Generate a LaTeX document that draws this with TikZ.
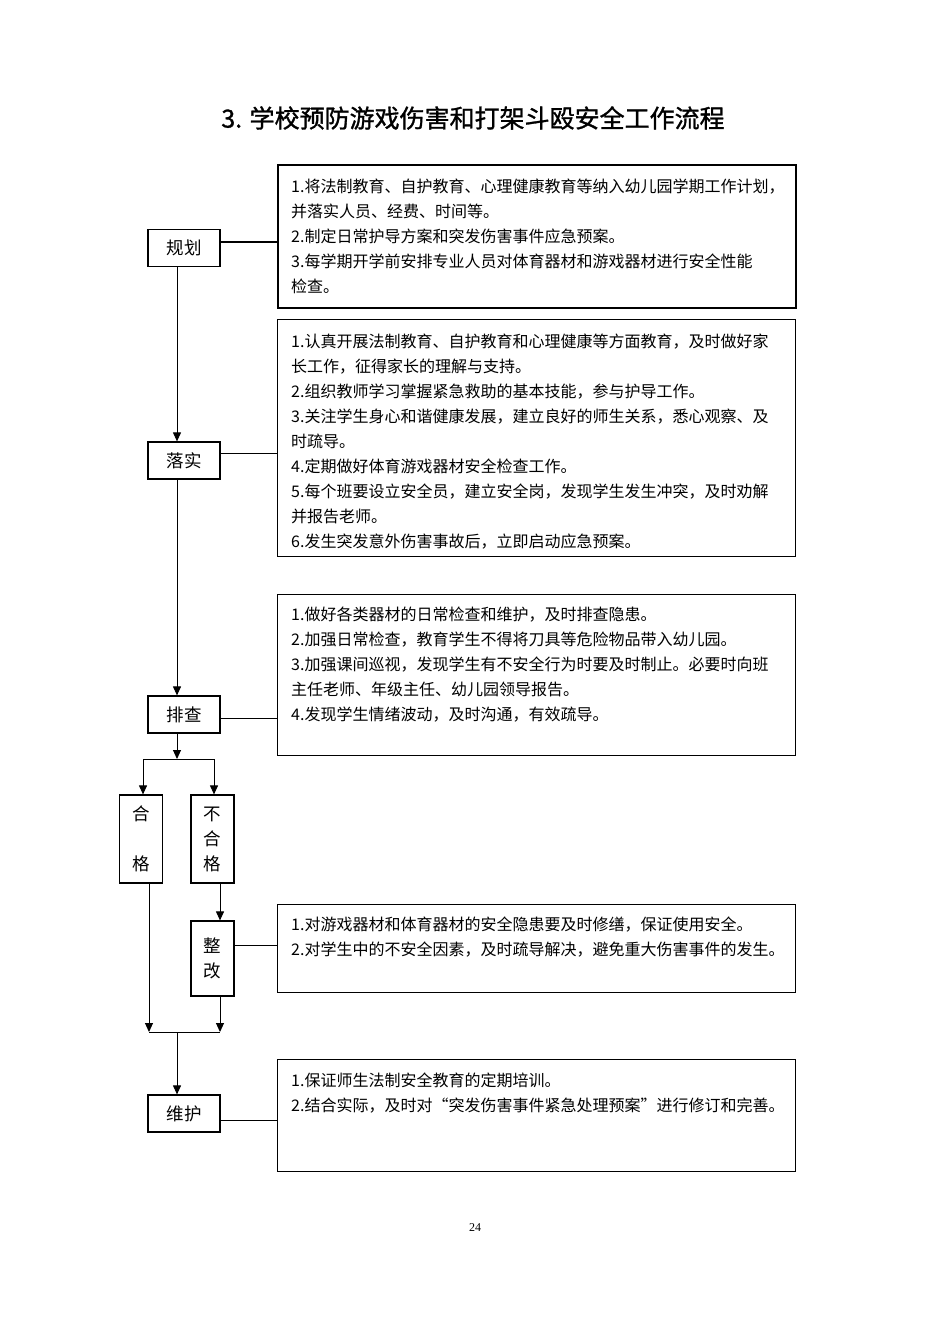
\documentclass[tikz,border=0pt]{standalone}
\usepackage{fontspec}
\setmainfont{Noto Sans CJK SC}
\newfontfamily\titlefont{Noto Sans CJK SC}[FakeBold=1.2]
\newfontfamily\pagefont{Liberation Serif}
\usetikzlibrary{arrows.meta}

\begin{document}
\begin{tikzpicture}[x=1pt,y=-1pt,
  stepname/.style={draw,line width=1.2pt,minimum width=72pt,minimum height=37pt,inner sep=0pt,font=\fontsize{17.5}{25}\selectfont},
  tallname/.style={draw,line width=1.2pt,minimum width=43pt,inner sep=0pt,align=center,font=\fontsize{17.5}{25}\selectfont},
  notebox/.style={draw,line width=1.4pt,anchor=north west,minimum width=518pt,inner sep=0pt},
  notes/.style={anchor=north west,inner sep=0pt,text width=500pt,align=left,font=\fontsize{16}{25}\selectfont},
  link/.style={line width=1pt},
  flow/.style={line width=1pt,-{Triangle[length=9pt,width=8pt]}}]

\fill[white] (0,0) rectangle (950,1344);
\useasboundingbox (0,0) rectangle (950,1344);

%\draw[step=50,gray,very thin] (0,0) grid (950,1344); %background grid

\node[font=\titlefont\fontsize{25}{28}\selectfont] (title) at (473,118) {3. 学校预防游戏伤害和打架斗殴安全工作流程};

% step boxes
\node[stepname] (plan)   at (184,248)    {规划};
\node[stepname] (luoshi) at (184,460.5)  {落实};
\node[stepname] (paicha) at (184,714.5)  {排查};
\node[tallname,minimum height=88pt] (hege)     at (141,839)   {合\\[25pt]格};
\node[tallname,minimum height=88pt] (buhege)   at (212.5,839) {不\\合\\格};
\node[tallname,minimum height=75pt] (zhenggai) at (212.5,958.5) {整\\改};
\node[stepname] (weihu)  at (184,1113.5) {维护};

% note boxes
\node[notebox,minimum height=143pt,line width=1.8pt] (planbox) at (277,164) {};
\node[notebox,minimum height=237pt] (luoshibox) at (277,319) {};
\node[notebox,minimum height=161pt] (paichabox) at (277,594) {};
\node[notebox,minimum height=88pt]  (zhenggaibox) at (277,904) {};
\node[notebox,minimum height=112pt] (weihubox) at (277,1059) {};

\node[notes] (plantext) at ([shift={(14,15)}]planbox.north west) {%
1.将法制教育、自护教育、心理健康教育等纳入幼儿园学期工作计划，\\
并落实人员、经费、时间等。\\
2.制定日常护导方案和突发伤害事件应急预案。\\
3.每学期开学前安排专业人员对体育器材和游戏器材进行安全性能\\
检查。};

\node[notes] (luoshitext) at ([shift={(14,15)}]luoshibox.north west) {%
1.认真开展法制教育、自护教育和心理健康等方面教育，及时做好家\\
长工作，征得家长的理解与支持。\\
2.组织教师学习掌握紧急救助的基本技能，参与护导工作。\\
3.关注学生身心和谐健康发展，建立良好的师生关系，悉心观察、及\\
时疏导。\\
4.定期做好体育游戏器材安全检查工作。\\
5.每个班要设立安全员，建立安全岗，发现学生发生冲突，及时劝解\\
并报告老师。\\
6.发生突发意外伤害事故后，立即启动应急预案。};

\node[notes] (paichatext) at ([shift={(14,13)}]paichabox.north west) {%
1.做好各类器材的日常检查和维护，及时排查隐患。\\
2.加强日常检查，教育学生不得将刀具等危险物品带入幼儿园。\\
3.加强课间巡视，发现学生有不安全行为时要及时制止。必要时向班\\
主任老师、年级主任、幼儿园领导报告。\\
4.发现学生情绪波动，及时沟通，有效疏导。};

\node[notes] (zhenggaitext) at ([shift={(14,13)}]zhenggaibox.north west) {%
1.对游戏器材和体育器材的安全隐患要及时修缮，保证使用安全。\\
2.对学生中的不安全因素，及时疏导解决，避免重大伤害事件的发生。};

\node[notes] (weihutext) at ([shift={(14,14)}]weihubox.north west) {%
1.保证师生法制安全教育的定期培训。\\
2.结合实际，及时对“突发伤害事件紧急处理预案”进行修订和完善。};

% side links
\draw[link,line width=1.8pt] ([yshift=6pt]plan.east) -- ([yshift=6pt]plan.east -| planbox.west);
\draw[link] ([yshift=7.5pt]luoshi.east) -- ([yshift=7.5pt]luoshi.east -| luoshibox.west);
\draw[link] ([yshift=-3.5pt]paicha.east) -- ([yshift=-3.5pt]paicha.east -| paichabox.west);
\draw[link] ([yshift=13.5pt]zhenggai.east) -- ([yshift=13.5pt]zhenggai.east -| zhenggaibox.west);
\draw[link] ([yshift=-6.5pt]weihu.east) -- ([yshift=-6.5pt]weihu.east -| weihubox.west);

% flow
\coordinate (stem) at (177,0);
\coordinate (lft)  at (143,0);
\coordinate (rgt)  at (214,0);
\coordinate (lout) at (149,0);
\coordinate (rout) at (220,0);
\coordinate (split) at (177,759);
\coordinate (join)  at (177,1032);

\draw[flow] (plan.south -| stem) -- (luoshi.north -| stem);
\draw[flow] (luoshi.south -| stem) -- (paicha.north -| stem);
\draw[flow] (paicha.south -| stem) -- (split);
\draw[link] (split -| lft) -- (split -| rgt);
\draw[flow] (split -| lft) -- (hege.north -| lft);
\draw[flow] (split -| rgt) -- (buhege.north -| rgt);
\draw[flow] (buhege.south -| rout) -- (zhenggai.north -| rout);
\draw[flow] (hege.south -| lout) -- (join -| lout);
\draw[flow] (zhenggai.south -| rout) -- (join -| rout);
\draw[link] (join -| lout) -- (join -| rout);
\draw[flow] (join) -- (weihu.north -| stem);

\node[font=\pagefont\fontsize{12}{14}\selectfont] (pagenum) at (475,1228) {24};

\end{tikzpicture}
\end{document}
